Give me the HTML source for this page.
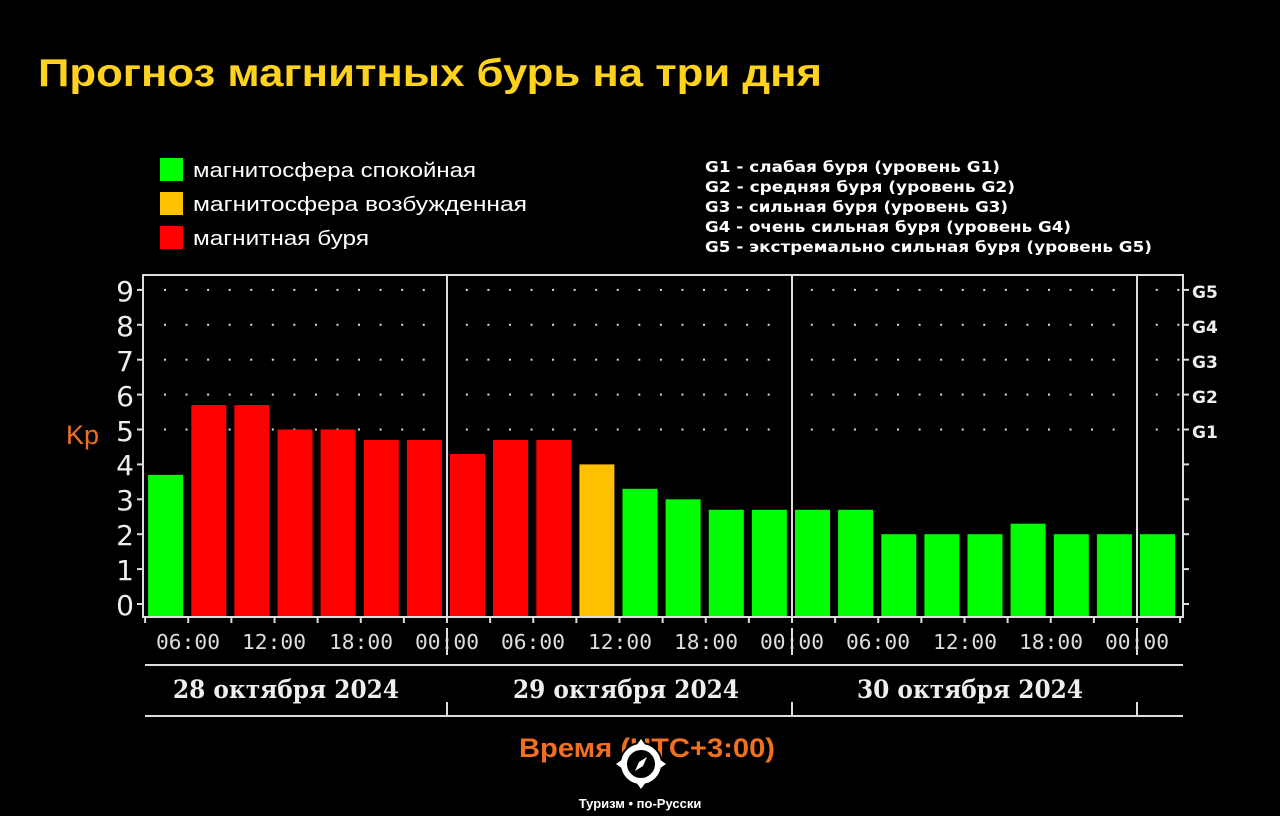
<!DOCTYPE html>
<html><head><meta charset="utf-8"><style>
html,body{margin:0;padding:0;background:#000;}
body{width:1280px;height:816px;overflow:hidden;position:relative;font-family:"Liberation Sans","DejaVu Sans",sans-serif;}
</style></head><body>
<svg id="s" width="1280" height="816" xmlns="http://www.w3.org/2000/svg" style="position:absolute;left:0;top:0">
<text x="38" y="86" font-family="Liberation Sans, DejaVu Sans, sans-serif" font-weight="bold" font-size="39" fill="#FFD21E" textLength="784" lengthAdjust="spacingAndGlyphs">Прогноз магнитных бурь на три дня</text>
<rect x="160" y="158" width="23" height="23" fill="#00FF00"/>
<rect x="160" y="192" width="23" height="23" fill="#FFC000"/>
<rect x="160" y="226" width="23" height="23" fill="#FF0000"/>
<g font-family="Liberation Sans, DejaVu Sans, sans-serif" font-size="20" fill="#fff" lengthAdjust="spacingAndGlyphs">
<text x="193" y="177" textLength="283" lengthAdjust="spacingAndGlyphs">магнитосфера спокойная</text>
<text x="193" y="211" textLength="334" lengthAdjust="spacingAndGlyphs">магнитосфера возбужденная</text>
<text x="193" y="245" textLength="176" lengthAdjust="spacingAndGlyphs">магнитная буря</text>
</g>
<g font-family="DejaVu Sans, sans-serif" font-weight="bold" font-size="15.5" fill="#fff">
<text x="705" y="172" textLength="295" lengthAdjust="spacingAndGlyphs">G1 - слабая буря (уровень G1)</text>
<text x="705" y="192" textLength="310" lengthAdjust="spacingAndGlyphs">G2 - средняя буря (уровень G2)</text>
<text x="705" y="212" textLength="303" lengthAdjust="spacingAndGlyphs">G3 - сильная буря (уровень G3)</text>
<text x="705" y="232" textLength="366" lengthAdjust="spacingAndGlyphs">G4 - очень сильная буря (уровень G4)</text>
<text x="705" y="252" textLength="447" lengthAdjust="spacingAndGlyphs">G5 - экстремально сильная буря (уровень G5)</text>
</g>
<g id="dots" fill="#ddd"></g>
<g id="bars">
<rect x="148.1" y="474.9" width="35" height="142.1" fill="#00FF00"/>
<rect x="191.3" y="405.1" width="35" height="211.9" fill="#FF0000"/>
<rect x="234.4" y="405.1" width="35" height="211.9" fill="#FF0000"/>
<rect x="277.5" y="429.5" width="35" height="187.5" fill="#FF0000"/>
<rect x="320.6" y="429.5" width="35" height="187.5" fill="#FF0000"/>
<rect x="363.8" y="440" width="35" height="177" fill="#FF0000"/>
<rect x="406.9" y="440" width="35" height="177" fill="#FF0000"/>
<rect x="450" y="453.9" width="35" height="163.1" fill="#FF0000"/>
<rect x="493.1" y="440" width="35" height="177" fill="#FF0000"/>
<rect x="536.3" y="440" width="35" height="177" fill="#FF0000"/>
<rect x="579.4" y="464.4" width="35" height="152.6" fill="#FFC000"/>
<rect x="622.5" y="488.8" width="35" height="128.2" fill="#00FF00"/>
<rect x="665.6" y="499.3" width="35" height="117.7" fill="#00FF00"/>
<rect x="708.8" y="509.8" width="35" height="107.2" fill="#00FF00"/>
<rect x="751.9" y="509.8" width="35" height="107.2" fill="#00FF00"/>
<rect x="795" y="509.8" width="35" height="107.2" fill="#00FF00"/>
<rect x="838.1" y="509.8" width="35" height="107.2" fill="#00FF00"/>
<rect x="881.3" y="534.2" width="35" height="82.8" fill="#00FF00"/>
<rect x="924.4" y="534.2" width="35" height="82.8" fill="#00FF00"/>
<rect x="967.5" y="534.2" width="35" height="82.8" fill="#00FF00"/>
<rect x="1010.6" y="523.7" width="35" height="93.3" fill="#00FF00"/>
<rect x="1053.8" y="534.2" width="35" height="82.8" fill="#00FF00"/>
<rect x="1096.9" y="534.2" width="35" height="82.8" fill="#00FF00"/>
<rect x="1140" y="534.2" width="35" height="82.8" fill="#00FF00"/>
</g>
<g stroke="#ddd" stroke-width="2" fill="none">
<rect x="143" y="275" width="1040" height="342"/>
<line x1="447" y1="275" x2="447" y2="617"/>
<line x1="792" y1="275" x2="792" y2="617"/>
<line x1="1137" y1="275" x2="1137" y2="617"/>
<line x1="145" y1="665" x2="1183" y2="665"/>
<line x1="145" y1="716" x2="1183" y2="716"/>
<line x1="447" y1="628" x2="447" y2="655"/><line x1="792" y1="628" x2="792" y2="655"/><line x1="1137" y1="628" x2="1137" y2="655"/>
<line x1="447" y1="702" x2="447" y2="716"/><line x1="792" y1="702" x2="792" y2="716"/><line x1="1137" y1="702" x2="1137" y2="716"/>
</g>
<g id="ticks" stroke="#ddd" stroke-width="2"></g>
<g font-family="DejaVu Sans, sans-serif" font-size="28" fill="#eee" text-anchor="end">
<text x="134" y="301">9</text><text x="134" y="336">8</text><text x="134" y="371">7</text><text x="134" y="406">6</text><text x="134" y="441">5</text><text x="134" y="475">4</text><text x="134" y="510">3</text><text x="134" y="545">2</text><text x="134" y="580">1</text><text x="134" y="615">0</text>
</g>
<g font-family="DejaVu Sans, sans-serif" font-weight="bold" font-size="17" fill="#eee">
<text x="1192" y="298">G5</text><text x="1192" y="333">G4</text><text x="1192" y="368">G3</text><text x="1192" y="403">G2</text><text x="1192" y="438">G1</text>
</g>
<text x="66" y="444" font-family="Liberation Sans, sans-serif" font-size="27" fill="#F07020">Kp</text>
<g font-family="DejaVu Sans Mono, Liberation Mono, monospace" font-size="20" fill="#ddd" text-anchor="middle">
<text x="188" y="649" textLength="64" lengthAdjust="spacingAndGlyphs">06:00</text><text x="274" y="649" textLength="64" lengthAdjust="spacingAndGlyphs">12:00</text><text x="361" y="649" textLength="64" lengthAdjust="spacingAndGlyphs">18:00</text><text x="447" y="649" textLength="64" lengthAdjust="spacingAndGlyphs">00:00</text>
<text x="533" y="649" textLength="64" lengthAdjust="spacingAndGlyphs">06:00</text><text x="620" y="649" textLength="64" lengthAdjust="spacingAndGlyphs">12:00</text><text x="706" y="649" textLength="64" lengthAdjust="spacingAndGlyphs">18:00</text><text x="792" y="649" textLength="64" lengthAdjust="spacingAndGlyphs">00:00</text>
<text x="878" y="649" textLength="64" lengthAdjust="spacingAndGlyphs">06:00</text><text x="965" y="649" textLength="64" lengthAdjust="spacingAndGlyphs">12:00</text><text x="1051" y="649" textLength="64" lengthAdjust="spacingAndGlyphs">18:00</text><text x="1137" y="649" textLength="64" lengthAdjust="spacingAndGlyphs">00:00</text>
</g>
<g font-family="DejaVu Serif, Liberation Serif, serif" font-weight="bold" font-size="25" fill="#eee" text-anchor="middle">
<text x="286" y="698" textLength="226" lengthAdjust="spacingAndGlyphs">28 октября 2024</text>
<text x="626" y="698" textLength="226" lengthAdjust="spacingAndGlyphs">29 октября 2024</text>
<text x="970" y="698" textLength="226" lengthAdjust="spacingAndGlyphs">30 октября 2024</text>
</g>
<text x="647" y="757" font-family="Liberation Sans, sans-serif" font-weight="bold" font-size="27" fill="#F07020" text-anchor="middle" textLength="256" lengthAdjust="spacingAndGlyphs">Время (UTC+3:00)</text>
<g transform="translate(641,764)">
<circle r="22" fill="#000"/>
<circle r="17" fill="none" stroke="#fff" stroke-width="6"/>
<path d="M0,-25 L5,-18 L-5,-18Z M0,25 L5,18 L-5,18Z M-25,0 L-18,5 L-18,-5Z M25,0 L18,5 L18,-5Z" fill="#fff"/>
<path d="M6,-7 L2,2 L-6,7 L-2,-2Z" fill="#fff"/>
</g>
<text x="640" y="808" font-family="Liberation Sans, sans-serif" font-weight="bold" font-size="13" fill="#fff" text-anchor="middle">Туризм • по-Русски</text>
</svg>
<script>
var ns="http://www.w3.org/2000/svg",d=document.getElementById("dots"),t=document.getElementById("ticks");
for(var lv=5;lv<=9;lv++){var y=604-lv*34.9;for(var x=165;x<1183;x+=21.56){if(Math.abs(x-447)<4||Math.abs(x-792)<4||Math.abs(x-1137)<4)continue;var c=document.createElementNS(ns,"rect");c.setAttribute("x",x-1);c.setAttribute("y",y-1);c.setAttribute("width",2);c.setAttribute("height",2);d.appendChild(c);}}
for(var lv=0;lv<=9;lv++){var y=604-lv*34.9;[[137,143],[1183,1189]].forEach(function(p){var l=document.createElementNS(ns,"line");l.setAttribute("x1",p[0]);l.setAttribute("x2",p[1]);l.setAttribute("y1",y);l.setAttribute("y2",y);t.appendChild(l);});}
for(var i=1;i<=25;i++){var x=102+43.125*i;if(x>1183)break;var l=document.createElementNS(ns,"line");l.setAttribute("x1",x);l.setAttribute("x2",x);l.setAttribute("y1",617);l.setAttribute("y2",623);t.appendChild(l);}
</script>
</body></html>
